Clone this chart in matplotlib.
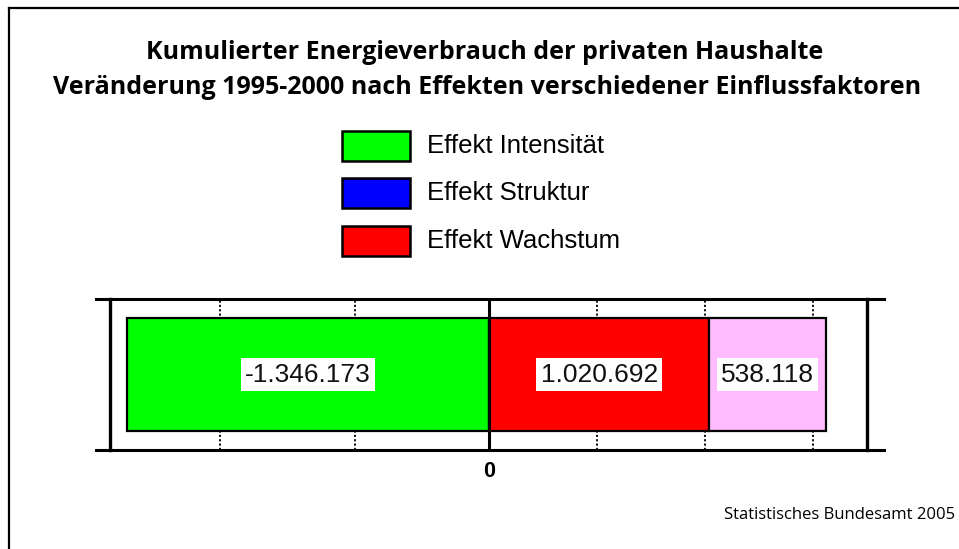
import numpy as np
import matplotlib
matplotlib.use("Agg")
import matplotlib.pyplot as plt
from matplotlib.lines import Line2D
from matplotlib.patches import Rectangle

# data
effekte = ["Effekt Intensität", "Effekt Struktur", "Effekt Wachstum"]
legend_farben = ["#00ff00", "#0000ff", "#ff0000"]
segment_start = [0, 0, 1020692]
segment_wert = [-1346173, 1020692, 538118]
segment_farbe = ["#00ff00", "#ff0000", "#ffbbff"]
segment_text = ["-1.346.173", "1.020.692", "538.118"]
gitter = [-1000000, -500000, 500000, 1000000, 1500000]

W, H = 959, 549
fig = plt.figure(figsize=(W / 100, H / 100), dpi=100)
fig.patch.set_facecolor("white")

# axes placed in pixel terms
x0, x1, ytop, ybot = 110, 867, 299, 450
ax = fig.add_axes([x0 / W, 1 - ybot / H, (x1 - x0) / W, (ybot - ytop) / H])

# left and right halves of the axis use different scales
ratio = 108 / 134.5


def fwd(x):
    x = np.asarray(x, dtype=float)
    return np.where(x < 0, x, x * ratio)


def inv(x):
    x = np.asarray(x, dtype=float)
    return np.where(x < 0, x, x / ratio)


ax.set_xscale("function", functions=(fwd, inv))
ax.set_xlim(-1409000, 1750000)
ax.set_ylim(0, 1)

for g in gitter:
    ax.axvline(g, color="black", lw=1.3, ls=(0, (1.2, 1.2)), zorder=1)

for s, v, c, t in zip(segment_start, segment_wert, segment_farbe, segment_text):
    ax.barh(0.5, v, left=s, height=0.75, color=c, edgecolor="black", lw=1.6, zorder=2)
    ax.text(s + v / 2, 0.5, t, ha="center", va="center", fontsize=19,
            family="Liberation Sans", color="#111111", zorder=4,
            bbox=dict(facecolor="white", edgecolor="none", pad=3))

ax.axvline(0, color="black", lw=2.2, zorder=3)
ax.set_xticks([])
ax.set_yticks([])
for side in ["top", "bottom"]:
    ax.spines[side].set_visible(False)
for side in ["left", "right"]:
    ax.spines[side].set_linewidth(2.4)

# top and bottom lines reach past the frame
ext_l = -14 / (x1 - x0)
ext_r = 1 + 17 / (x1 - x0)
for yy in [0, 1]:
    ax.plot([ext_l, ext_r], [yy, yy], color="black", lw=2.2,
            transform=ax.transAxes, clip_on=False, zorder=5)

ax.text(0, -0.075, "0", ha="center", va="top", fontsize=15.5, fontweight="bold",
        family="Liberation Sans", transform=ax.get_xaxis_transform())

# title
fig.text(485 / W, 1 - 59 / H, "Kumulierter Energieverbrauch der privaten Haushalte",
         ha="center", va="baseline", fontsize=18, fontweight="bold", family="Open Sans")
fig.text(487 / W, 1 - 94 / H, "Veränderung 1995-2000 nach Effekten verschiedener Einflussfaktoren",
         ha="center", va="baseline", fontsize=18, fontweight="bold", family="Open Sans")

# legend drawn by hand
box_y = [131, 178, 226]
for lab, col, yb in zip(effekte, legend_farben, box_y):
    fig.add_artist(Rectangle((342 / W, 1 - (yb + 30) / H), 68 / W, 30 / H,
                             facecolor=col, edgecolor="black", lw=1.8,
                             transform=fig.transFigure))
    fig.text(427 / W, 1 - (yb + 15) / H, lab, ha="left", va="center",
             fontsize=18.5, family="Liberation Sans")

fig.text(955 / W, 1 - 519 / H, "Statistisches Bundesamt 2005", ha="right",
         va="baseline", fontsize=12, family="Open Sans")

# figure border (top and left)
fig.add_artist(Line2D([9 / W, 1], [1 - 8 / H, 1 - 8 / H], color="black", lw=1.6,
                      transform=fig.transFigure))
fig.add_artist(Line2D([9 / W, 9 / W], [0, 1 - 8 / H], color="black", lw=1.6,
                      transform=fig.transFigure))

fig.savefig("out.png", dpi=100, facecolor="white")
